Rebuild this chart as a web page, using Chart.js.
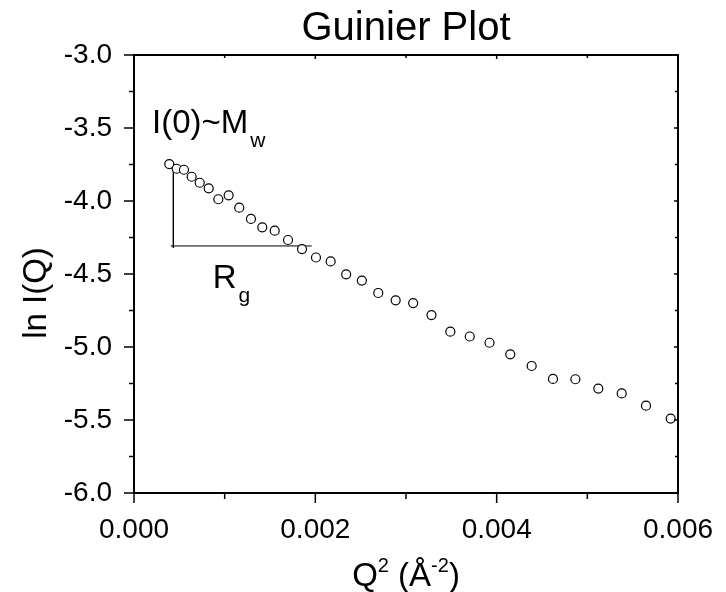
<!DOCTYPE html>
<html>
<head>
<meta charset="utf-8">
<script src="https://cdn.jsdelivr.net/npm/chart.js@4"></script>
<style>html,body{margin:0;padding:0;background:#fff}</style>
</head>
<body>
<canvas id="guinier" width="726" height="592"></canvas>
<script>
// datos
const q2 = [0.000389, 0.000471, 0.000551, 0.000636, 0.000725, 0.000824, 0.000930, 0.001044,
  0.001161, 0.001290, 0.001415, 0.001552, 0.001699, 0.001853, 0.002007, 0.002169, 0.002340,
  0.002513, 0.002694, 0.002886, 0.003079, 0.003281, 0.003489, 0.003703, 0.003921, 0.004150,
  0.004386, 0.004621, 0.004868, 0.005121, 0.005379, 0.005647, 0.005919];
const lnI = [-3.747, -3.779, -3.786, -3.834, -3.875, -3.913, -3.988, -3.961,
  -4.046, -4.123, -4.180, -4.203, -4.267, -4.329, -4.387, -4.414, -4.502,
  -4.545, -4.630, -4.680, -4.699, -4.781, -4.895, -4.928, -4.971, -5.050,
  -5.130, -5.219, -5.221, -5.285, -5.318, -5.402, -5.490];

const xTicks = [0, 0.002, 0.004, 0.006];
const xTickLabels = ["0.000", "0.002", "0.004", "0.006"];
const xMinorTicks = [0.001, 0.003, 0.005];
const yTicks = [-6, -5.5, -5, -4.5, -4, -3.5, -3];
const yTickLabels = ["-6.0", "-5.5", "-5.0", "-4.5", "-4.0", "-3.5", "-3.0"];
const yMinorTicks = [-5.75, -5.25, -4.75, -4.25, -3.75, -3.25];

// lineas guia I(0) y Rg
const i0LineX = [0.000434, 0.000434];
const i0LineY = [-3.80, -4.322];
const rgLineX = [0.000405, 0.00196];
const rgLineY = [-4.308, -4.308];

const FONT = '"Liberation Sans", Arial, sans-serif';

function drawSub(ctx, x, y, main, sub, size, subSize) {
  ctx.font = size + "px " + FONT;
  ctx.fillText(main, x, y);
  const w = ctx.measureText(main).width;
  ctx.font = subSize + "px " + FONT;
  ctx.fillText(sub, x + w + 2, y + size * 0.42);
}

const framePlugin = {
  id: "frame",
  afterDraw(chart) {
    const ctx = chart.ctx;
    const { left, right, top, bottom } = chart.chartArea;
    const xs = chart.scales.x, ys = chart.scales.y;
    ctx.save();
    ctx.strokeStyle = "#000";
    ctx.lineWidth = 2;
    ctx.strokeRect(left, top, right - left, bottom - top);

    ctx.lineWidth = 1.5;
    ctx.beginPath();
    xTicks.forEach(v => {
      const p = xs.getPixelForValue(v);
      ctx.moveTo(p, bottom); ctx.lineTo(p, bottom + 10);
      ctx.moveTo(p, top); ctx.lineTo(p, top + 4);
    });
    xMinorTicks.forEach(v => {
      const p = xs.getPixelForValue(v);
      ctx.moveTo(p, bottom); ctx.lineTo(p, bottom + 6);
      ctx.moveTo(p, top); ctx.lineTo(p, top + 3);
    });
    yTicks.forEach(v => {
      const p = ys.getPixelForValue(v);
      ctx.moveTo(left, p); ctx.lineTo(left - 10, p);
      ctx.moveTo(right, p); ctx.lineTo(right - 4, p);
    });
    yMinorTicks.forEach(v => {
      const p = ys.getPixelForValue(v);
      ctx.moveTo(left, p); ctx.lineTo(left - 5, p);
      ctx.moveTo(right, p); ctx.lineTo(right - 3, p);
    });
    ctx.stroke();

    // anotaciones
    ctx.fillStyle = "#000";
    ctx.textAlign = "left";
    ctx.textBaseline = "alphabetic";
    drawSub(ctx, xs.getPixelForValue(0.000199), ys.getPixelForValue(-3.534), "I(0)~M", "w", 33, 21);
    drawSub(ctx, xs.getPixelForValue(0.000868), ys.getPixelForValue(-4.596), "R", "g", 33, 21);

    // titulo eje x
    const parts = [["Q", 33, 0], ["2", 20, -14], [" (Å", 33, 0], ["-2", 20, -14], [")", 33, 0]];
    let total = 0;
    parts.forEach(([t, s]) => { ctx.font = s + "px " + FONT; total += ctx.measureText(t).width; });
    let x = (left + right) / 2 - total / 2;
    const base = 586;
    parts.forEach(([t, s, dy]) => {
      ctx.font = s + "px " + FONT;
      ctx.fillText(t, x, base + dy);
      x += ctx.measureText(t).width;
    });

    // titulo eje y
    ctx.translate(37, (top + bottom) / 2 + 19);
    ctx.rotate(-Math.PI / 2);
    ctx.textAlign = "center";
    ctx.textBaseline = "middle";
    ctx.font = "33px " + FONT;
    ctx.fillText("ln I(Q)", 0, 0);
    ctx.restore();
  }
};

new Chart(document.getElementById("guinier"), {
  type: "scatter",
  data: {
    datasets: [
      {
        label: "ln I(Q)",
        data: q2.map((v, i) => ({ x: v, y: lnI[i] })),
        pointStyle: "circle",
        pointRadius: 4.5,
        pointBorderWidth: 1.2,
        pointBorderColor: "#000",
        pointBackgroundColor: "#fff",
      },
      {
        label: "I0",
        data: i0LineX.map((v, i) => ({ x: v, y: i0LineY[i] })),
        showLine: true,
        borderColor: "#000",
        borderWidth: 1,
        pointRadius: 0,
      },
      {
        label: "Rg",
        data: rgLineX.map((v, i) => ({ x: v, y: rgLineY[i] })),
        showLine: true,
        borderColor: "#000",
        borderWidth: 1,
        pointRadius: 0,
      },
    ],
  },
  options: {
    responsive: false,
    animation: false,
    devicePixelRatio: 1,
    layout: { padding: { left: 0, right: 48, top: 0, bottom: 0 } },
    plugins: {
      legend: { display: false },
      tooltip: { enabled: false },
      title: {
        display: true,
        fullSize: false,
        text: "Guinier Plot",
        color: "#000",
        font: { family: FONT, size: 40, weight: "normal" },
        padding: { top: 5, bottom: 2 },
      },
    },
    scales: {
      x: {
        type: "linear",
        min: 0,
        max: 0.006,
        grid: { display: false },
        border: { display: false },
        afterBuildTicks: s => { s.ticks = xTicks.map(v => ({ value: v })); },
        afterFit: s => { s.height = 99; },
        ticks: {
          color: "#000",
          padding: 12,
          maxRotation: 0,
          font: { family: FONT, size: 28 },
          callback: (v, i) => xTickLabels[i],
        },
      },
      y: {
        min: -6,
        max: -3,
        grid: { display: false },
        border: { display: false },
        afterBuildTicks: s => { s.ticks = yTicks.map(v => ({ value: v })); },
        afterFit: s => { s.width = 134; },
        ticks: {
          color: "#000",
          padding: 14,
          font: { family: FONT, size: 28 },
          callback: (v, i) => yTickLabels[i],
        },
      },
    },
  },
  plugins: [framePlugin],
});
</script>
</body>
</html>
